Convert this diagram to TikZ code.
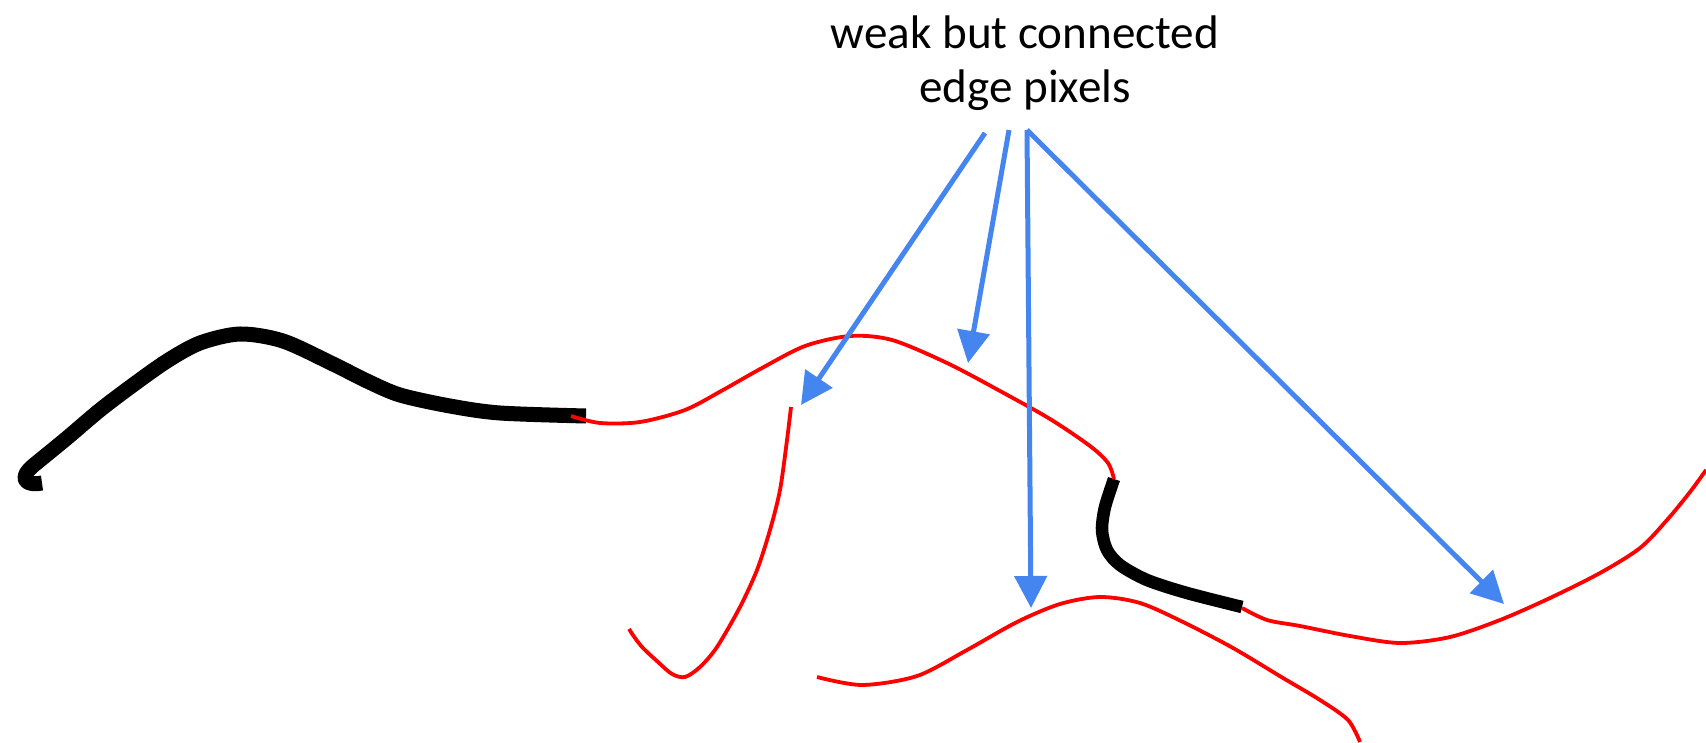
\documentclass[tikz,border=0pt]{standalone}
\usepackage{fontspec}
\setmainfont{Carlito}
\usepackage{tikz}
\usetikzlibrary{arrows.meta}
\definecolor{arrowblue}{RGB}{68,133,240}

\begin{document}
\begin{tikzpicture}[x=0.01cm,y=-0.01cm,
  strong/.style={line width=0.15cm,line join=round},
  weak/.style={red,line width=0.038cm,line join=round},
  ptr/.style={arrowblue,line width=0.05cm,-{Triangle[length=0.32cm,width=0.32cm]}}]
\useasboundingbox (0,0) rectangle (1706,743);
% strong edge pixels
\draw[strong] (42,483) .. controls (28,486) and (16,480) .. (34,465)
  -- plot[smooth] coordinates {(34,465) (67,438) (100,410) (133,385) (167,361) (200,343) (240,334) (283,341) (333,364) (367,381) (400,395) (450,406) (500,413) (586,416)};
\draw[strong,line width=0.125cm] plot[smooth] coordinates {(1114,479) (1105,507) (1102,530) (1107,550) (1120,565) (1147,580) (1187,593) (1242,607)};
% weak edge pixels
\draw[weak] plot[smooth] coordinates {(571,416) (600,423) (640,422) (685,410) (723,390) (762,368) (805,346) (850,336) (892,340) (947,363) (1000,391) (1050,419) (1090,446) (1108,463) (1114,479)};
\draw[weak] plot[smooth] coordinates {(1242,608) (1267,620) (1300,626) (1350,636) (1400,643) (1450,637) (1500,620) (1550,598) (1600,573) (1640,548) (1667,520) (1690,492) (1706,470)};
\draw[weak] plot[smooth] coordinates {(791,407) (787,440) (780,490) (770,530) (757,570) (740,607) (717,647) (700,667) (685,677) (672,674) (658,662) (643,648) (635,638) (629,629)};
\draw[weak] plot[smooth] coordinates {(817,677) (862,685) (917,676) (967,650) (1017,622) (1060,604) (1100,597) (1140,603) (1183,622) (1233,648) (1283,678) (1320,700) (1348,720) (1360,742)};
% label and pointers
\node[anchor=north,inner sep=0,align=center,font=\fontsize{13.4}{15.4}\selectfont] (caption) at (1025,15) {weak but connected\\edge pixels};
\coordinate (s1) at (985,133);
\coordinate (s2) at (1009,130);
\coordinate (s3) at (1027,130);
\coordinate (t1) at (801,405);
\coordinate (t2) at (968,363);
\coordinate (t3) at (1031,608);
\coordinate (t4) at (1504,604);
\draw[ptr] (s1)--(t1);
\draw[ptr] (s2)--(t2);
\draw[ptr] (s3)--(t3);
\draw[ptr] (s3)--(t4);
\end{tikzpicture}
\end{document}
